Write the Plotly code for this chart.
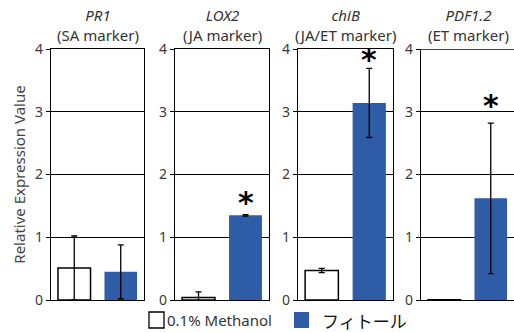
import plotly.graph_objects as go

# Relative expression of defence marker genes (mean ± error)
genes = ["PR1", "LOX2", "chiB", "PDF1.2"]
markers = ["(SA marker)", "(JA marker)", "(JA/ET marker)", "(ET marker)"]
series = ["0.1% Methanol", "フィトール"]
methanol_mean = [0.51, 0.04, 0.47, 0.003]
methanol_err = [0.51, 0.09, 0.035, 0.003]
phytol_mean = [0.45, 1.35, 3.14, 1.62]
phytol_err = [0.43, 0.012, 0.55, 1.20]
significant = [False, True, True, True]
y_ticks = [0, 1, 2, 3, 4]

W, H = 514, 332
M_T, M_B = 49, 32
PLOT_H = H - M_T - M_B
BLUE = "#2F5CA6"
TEXT = "#333333"
FONT = "Noto Sans, Open Sans, sans-serif"
CJK = "Noto Sans CJK JP, Noto Sans, sans-serif"

# panel x extents in pixels
panel_px = [(51, 144), (175, 269), (298, 393), (421, 514)]
star_lift_px = [0, 12, 9, 18]


def px_x(x):
    return x / W


def px_y(y):
    return (H - M_B - y) / PLOT_H


fig = go.Figure()
for i in range(len(genes)):
    ax = "" if i == 0 else str(i + 1)
    common = dict(xaxis="x" + ax, yaxis="y" + ax, width=0.7, showlegend=False)
    fig.add_trace(go.Bar(
        x=[series[0]], y=[methanol_mean[i]],
        marker=dict(color="white", line=dict(color="black", width=1.5)),
        error_y=dict(type="data", array=[methanol_err[i]], color="black",
                     thickness=1.3, width=3),
        name=series[0], **common))
    fig.add_trace(go.Bar(
        x=[series[1]], y=[phytol_mean[i]],
        marker=dict(color=BLUE, line=dict(width=0)),
        error_y=dict(type="data", array=[phytol_err[i]], color="black",
                     thickness=1.3, width=3),
        name=series[1], **common))

layout = dict(
    width=W, height=H,
    margin=dict(l=0, r=0, t=M_T, b=M_B, pad=0),
    plot_bgcolor="white", paper_bgcolor="white",
    font=dict(family=FONT, color=TEXT, size=14),
    barmode="group", bargap=0.3,
)

annotations = []
shapes = []
for i in range(len(genes)):
    ax = "" if i == 0 else str(i + 1)
    x0, x1 = panel_px[i]
    last = i == len(genes) - 1
    layout["xaxis" + ax] = dict(
        domain=[px_x(x0), px_x(x1)], range=[-0.5, 1.5],
        type="category", categoryorder="array", categoryarray=series,
        showticklabels=False, ticks="", showgrid=False, zeroline=False,
        showline=True, linecolor="black", linewidth=1.3,
        mirror=False if last else True, anchor="y" + ax, fixedrange=True,
    )
    layout["yaxis" + ax] = dict(
        range=[0, 4], tickvals=y_ticks, ticks="outside", ticklen=4,
        tickcolor="black", tickwidth=1.3,
        tickfont=dict(size=14, color="#3a3a3a"),
        showgrid=True, gridcolor="black", gridwidth=1.3, zeroline=False,
        showline=True, linecolor="black", linewidth=1.3,
        mirror=False if last else True, anchor="x" + ax, fixedrange=True,
    )
    if last:
        shapes.append(dict(type="line", xref="x" + ax + " domain", yref="y" + ax,
                           x0=0, x1=1, y0=4, y1=4,
                           line=dict(color="black", width=1.3)))
    cx = px_x((x0 + x1 + (2 if last else 0)) / 2)
    annotations.append(dict(text="<i>" + genes[i] + "</i><br>" + markers[i],
                            x=cx, y=px_y(25),
                            xref="paper", yref="paper", showarrow=False,
                            xanchor="center", yanchor="middle", align="center",
                            font=dict(size=15, color=TEXT)))
    if significant[i]:
        annotations.append(dict(text="<b>*</b>", x=series[1],
                                y=phytol_mean[i] + phytol_err[i],
                                xref="x" + ax, yref="y" + ax, showarrow=False,
                                xanchor="center", yanchor="middle",
                                yshift=star_lift_px[i],
                                font=dict(size=30, color="black",
                                          family="DejaVu Sans")))

layout["yaxis"]["title"] = dict(text="Relative Expression Value",
                                font=dict(size=15, color="#444444"), standoff=5)

# legend row beneath the panels
shapes.append(dict(type="rect", xref="paper", yref="paper",
                   x0=px_x(149), x1=px_x(164), y0=px_y(328), y1=px_y(312),
                   line=dict(color="black", width=1.3), fillcolor="white"))
annotations.append(dict(text=series[0], x=px_x(165), y=px_y(320),
                        xref="paper", yref="paper", showarrow=False,
                        xanchor="left", yanchor="middle",
                        font=dict(size=15, color=TEXT)))
shapes.append(dict(type="rect", xref="paper", yref="paper",
                   x0=px_x(294), x1=px_x(309), y0=px_y(328), y1=px_y(312),
                   line=dict(width=0), fillcolor=BLUE))
annotations.append(dict(text=series[1], x=px_x(320), y=px_y(320),
                        xref="paper", yref="paper", showarrow=False,
                        xanchor="left", yanchor="middle",
                        font=dict(size=17, color="#111111", family=CJK)))

layout["annotations"] = annotations
layout["shapes"] = shapes
fig.update_layout(**layout)
fig.write_html("out.html", config={"displayModeBar": False})
